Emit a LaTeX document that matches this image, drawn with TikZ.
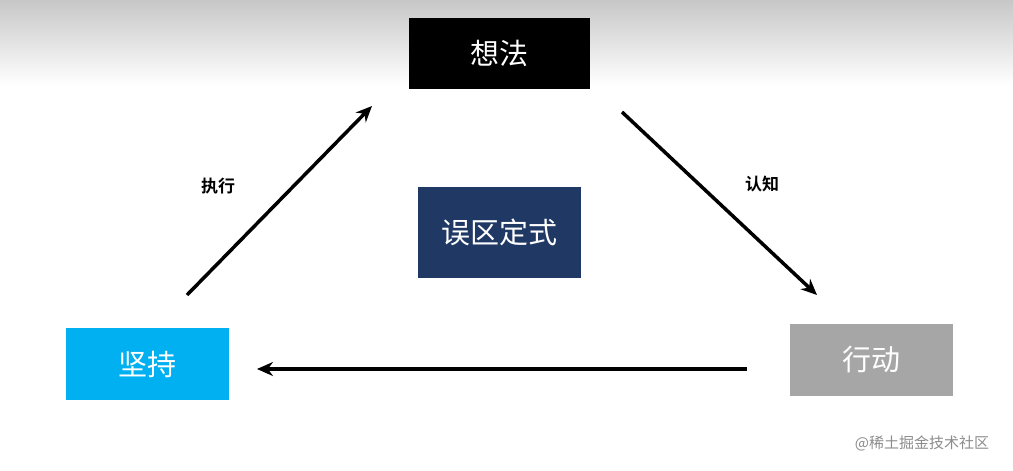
\documentclass[tikz,border=0pt]{standalone}
\usetikzlibrary{arrows.meta}
\usepackage{fontspec}
\setmainfont{Noto Sans CJK SC}
\newfontfamily\cjkb{Noto Sans CJK SC Bold}
\begin{document}
\begin{tikzpicture}[x=1pt,y=-1pt,
  box/.style={minimum width=163pt,minimum height=72pt,inner sep=0pt,text=white,font=\fontsize{29}{34}\selectfont},
  arr/.style={line width=3.5pt,-{Stealth[length=16pt,width=14pt]}},
  lab/.style={font=\cjkb\fontsize{17}{20}\selectfont}]
\useasboundingbox (0,0) rectangle (1013,471);
\fill[white] (0,0) rectangle (1013,471);
\shade[top color=black!22,bottom color=white] (0,0) rectangle (1013,85);
\node[box,fill=black,minimum width=181pt,minimum height=71pt] (idea) at (499.5,53.5) {想法};
\node[box,fill={rgb,255:red,31;green,56;blue,100},minimum height=91pt] (myth) at (499.5,232.5) {误区定式};
\node[box,fill={rgb,255:red,0;green,176;blue,240}] (keep) at (147,364) {坚持};
\node[box,fill={rgb,255:red,166;green,166;blue,166}] (act) at (871,360) {行动};
\coordinate (a1) at (187,295); \coordinate (a2) at (372,106);
\coordinate (b1) at (622,112); \coordinate (b2) at (817,295);
\coordinate (c1) at (747,369); \coordinate (c2) at (257,369);
\draw[arr] (a1) -- (a2);
\draw[arr] (b1) -- (b2);
\draw[arr] (c1) -- (c2);
\node[lab] (l1) at (218,186) {执行};
\node[lab] (l2) at (762,184) {认知};
\node[text=black!45,font=\fontsize{15}{18}\selectfont] (wm) at (922,443) {@稀土掘金技术社区};
\end{tikzpicture}
\end{document}
